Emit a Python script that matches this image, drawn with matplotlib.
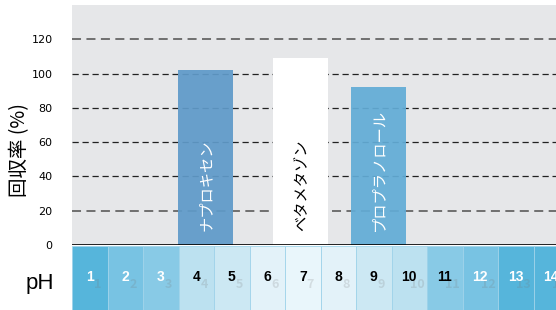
import matplotlib
matplotlib.use("Agg")
import matplotlib.pyplot as plt
from matplotlib.patches import Rectangle

plt.rcParams['font.family'] = ['Noto Sans CJK JP', 'DejaVu Sans']

# data
drugs = ['ナプロキセン', 'ベタメタゾン', 'プロプラノロール']
recovery = [102, 109, 92]
bar_pos = [3.77, 6.45, 8.63]
bar_colors = ['#5f9ac9', '#ffffff', '#62acd6']
bar_text_colors = ['white', 'black', 'white']
yticks = [0, 20, 40, 60, 80, 100, 120]

ph_values = list(range(1, 15))
ph_colors = ['#56b5db', '#78c3e3', '#88cae6', '#bce1f0', '#cce8f3', '#e3f2f9', '#e9f6fb',
             '#e3f2f9', '#cce8f3', '#bce1f0', '#88cae6', '#78c3e3', '#56b5db', '#56b5db']
ph_text_colors = ['white'] * 3 + ['black'] * 8 + ['white'] * 3

W, H = 556, 310
x0 = 72
cell = 35.5
xmax = (W - x0) / cell

fig = plt.figure(figsize=(W / 100, H / 100), dpi=100)

# main chart
ax = fig.add_axes([x0 / W, 1 - 245 / H, 1 - x0 / W, 240 / H])
ax.set_facecolor('#e6e7e9')
ax.set_xlim(0, xmax)
ax.set_ylim(0, 140)
for y in yticks[1:]:
    c = '#666666' if y in (20, 120) else '#222222'
    lw = 1.3 if y in (20, 120) else 0.9
    ax.axhline(y, color=c, lw=lw, ls=(0, (5, 3)), zorder=1)
for p, v, c, name, tc in zip(bar_pos, recovery, bar_colors, drugs, bar_text_colors):
    ax.bar(p, v, width=1.55, color=c, alpha=0.93 if c != '#ffffff' else 1, zorder=2)
    ax.text(p, 8, name, rotation=90, ha='center', va='bottom', color=tc,
            fontsize=11, zorder=3)
ax.axhline(0, color='black', lw=1.2, zorder=4)
ax.set_yticks(yticks)
ax.set_yticklabels([str(t) for t in yticks], fontsize=8, family=['Liberation Sans Narrow', 'DejaVu Sans'])
ax.tick_params(axis='y', length=0, pad=14)
ax.set_xticks([])
for s in ax.spines.values():
    s.set_visible(False)
fig.text(20 / W, 1 - 150 / H, '回収率 (%)', rotation=90, ha='center', va='center', fontsize=14)

# pH strip
sx = fig.add_axes([x0 / W, 0, 1 - x0 / W, 64 / H])
sx.set_xlim(0, xmax)
sx.set_ylim(0, 1)
sx.axis('off')
for i, (ph, c, tc) in enumerate(zip(ph_values, ph_colors, ph_text_colors)):
    sx.add_patch(Rectangle((i, 0), 1, 1, facecolor=c, edgecolor='#9fd3ea', lw=0.6))
    # faint drop shadow below-right of each digit
    sx.text(i + 0.72, 0.4, str(ph), ha='center', va='center', fontsize=9,
            fontweight='bold', color='#777777', alpha=0.2)
    sx.text(i + 0.5, 0.52, str(ph), ha='center', va='center', fontsize=10,
            fontweight='bold', color=tc, family=['Liberation Sans', 'DejaVu Sans'])
fig.text(40 / W, 1 - 283 / H, 'pH', ha='center', va='center', fontsize=16,
         family=['Liberation Sans', 'DejaVu Sans'])

fig.savefig('out.png', dpi=100)
